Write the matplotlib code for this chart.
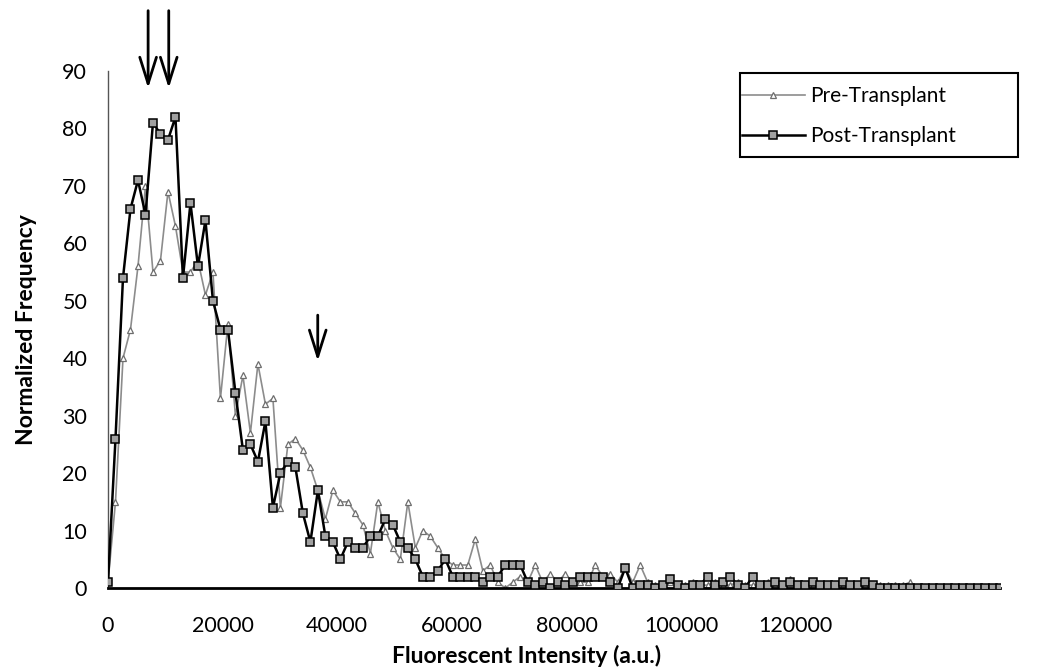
import numpy as np
import matplotlib
matplotlib.use("Agg")
import matplotlib.pyplot as plt
from matplotlib.patches import Rectangle

plt.rcParams['font.family'] = ['Lato', 'DejaVu Sans']

# histogram bins (a.u.)
bin_width = 1308
pre_transplant = [
    1, 15, 40, 45, 56, 70, 55, 57, 69, 63,
    55, 55, 57, 51, 55, 33, 46, 30, 37, 27,
    39, 32, 33, 14, 25, 26, 24, 21, 17, 12,
    17, 15, 15, 13, 11, 6, 15, 10, 7, 5,
    15, 7, 10, 9, 7, 5, 4, 4, 4, 8.5,
    3, 4, 1, 0, 1, 2, 1, 4, 1, 2.5,
    1, 2.5, 1, 1, 1, 4, 2, 2.5, 1, 3.5,
    1, 4, 1, 0.5, 0.5, 1, 0.5, 0.5, 1, 0.5,
    0.5, 1, 0.5, 0.5, 1, 0.5, 0.5, 0.5, 1, 0.5,
    0.5, 1.5, 0.5, 0.5, 0.5, 0.5, 0.5, 0.5, 0.5, 0.5,
    0.5, 0.5, 0.5, 0.5, 0.5, 0.5, 0.5, 1, 0, 0,
    0, 0, 0, 0, 0, 0, 0, 0, 0, 0,
]
post_transplant = [
    1, 26, 54, 66, 71, 65, 81, 79, 78, 82,
    54, 67, 56, 64, 50, 45, 45, 34, 24, 25,
    22, 29, 14, 20, 22, 21, 13, 8, 17, 9,
    8, 5, 8, 7, 7, 9, 9, 12, 11, 8,
    7, 5, 2, 2, 3, 5, 2, 2, 2, 2,
    1, 2, 2, 4, 4, 4, 1, 0.5, 1, 0,
    1, 0.5, 1, 2, 2, 2, 2, 1, 0, 3.5,
    0, 0.5, 0.5, 0, 0.5, 1.5, 0.5, 0, 0.5, 0.5,
    2, 0.5, 1, 2, 0.5, 0, 2, 0.5, 0.5, 1,
    0.5, 1, 0.5, 0.5, 1, 0.5, 0.5, 0.5, 1, 0.5,
    0.5, 1, 0.5, 0, 0, 0, 0, 0, 0, 0,
    0, 0, 0, 0, 0, 0, 0, 0, 0, 0,
]
intensity = np.arange(len(post_transplant)) * bin_width

x_ticks = [0, 20000, 40000, 60000, 80000, 100000, 120000]
y_ticks = [0, 10, 20, 30, 40, 50, 60, 70, 80, 90]

# arrows marking peaks: (x, y_tail, y_tip)
arrows = [(7000, 100.5, 87.0), (10600, 100.5, 87.0), (36600, 47.5, 39.5)]

W, H = 1042, 668
fig = plt.figure(figsize=(W / 100, H / 100), dpi=100)
ax = fig.add_axes([108 / W, 80 / H, 892 / W, 517 / H])

ax.plot(intensity, pre_transplant, color='#8c8c8c', lw=1.2,
        marker='^', ms=4.5, mfc='white', mec='#6e6e6e', mew=0.9,
        label='Pre-Transplant', zorder=2)
ax.plot(intensity, post_transplant, color='black', lw=1.8,
        marker='s', ms=5.8, mfc='#a0a0a0', mec='black', mew=1.1,
        label='Post-Transplant', zorder=3)

ax.set_xlim(0, intensity[-1])
ax.set_ylim(0, 90)
ax.set_xticks(x_ticks)
ax.set_yticks(y_ticks)
ax.tick_params(length=0, labelsize=15.5)
ax.tick_params(axis='x', pad=20)
ax.tick_params(axis='y', pad=15)
for s in ('top', 'right'):
    ax.spines[s].set_visible(False)
ax.spines['left'].set_linewidth(1.0)
ax.spines['left'].set_color('#555555')
ax.spines['bottom'].set_linewidth(2)

fig.text(27 / W, 1 - 330 / H, 'Normalized Frequency', rotation=90,
         ha='center', va='center', fontsize=16.5, fontweight='bold')
fig.text(527 / W, 1 - 656 / H, 'Fluorescent Intensity (a.u.)',
         ha='center', va='center', fontsize=16.5, fontweight='bold')

for x, y0, y1 in arrows:
    ax.annotate('', xy=(x, y1), xytext=(x, y0), annotation_clip=False,
                arrowprops=dict(arrowstyle='->,head_length=1.9,head_width=0.6',
                                color='black', lw=2, shrinkA=0, shrinkB=0))

# legend frame drawn as a fixed box like the original
fig.patches.append(Rectangle((740 / W, 1 - 157 / H), 278 / W, 84 / H,
                             transform=fig.transFigure, fill=False,
                             edgecolor='black', lw=1.5))
leg = ax.legend(loc='upper left', bbox_to_anchor=(738 / W, 1 - 82 / H),
                bbox_transform=fig.transFigure, fontsize=15, frameon=False,
                handlelength=3.0, handletextpad=0.25,
                borderaxespad=0, borderpad=0.2, labelspacing=0.95)

fig.savefig('out.png', dpi=100)
